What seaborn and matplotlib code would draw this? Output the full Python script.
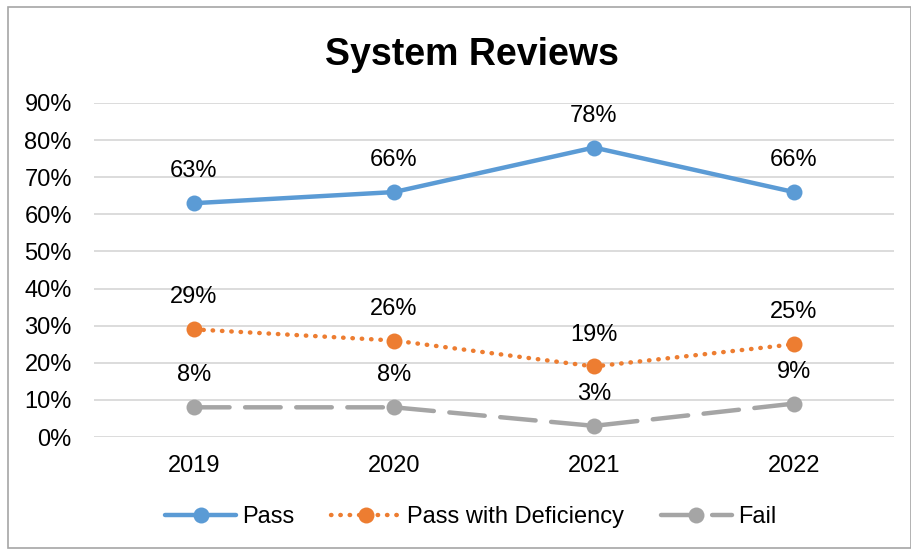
import pandas as pd
import matplotlib.pyplot as plt
import seaborn as sns
from matplotlib.patches import Rectangle
from matplotlib.ticker import PercentFormatter

# Data
years = ["2019", "2020", "2021", "2022"]
pass_vals = [0.63, 0.66, 0.78, 0.66]
deficiency_vals = [0.29, 0.26, 0.19, 0.25]
fail_vals = [0.08, 0.08, 0.03, 0.09]
series_names = ["Pass", "Pass with Deficiency", "Fail"]
colors = ["#5B9BD5", "#ED7D31", "#A5A5A5"]

sns.set_style("white")
plt.rcParams["font.family"] = ["Liberation Sans", "DejaVu Sans"]
plt.rcParams["text.color"] = "#000000"

fig = plt.figure(figsize=(9.12, 5.5), dpi=100)
ax = fig.add_axes([94 / 912, 1 - 437 / 550, 800 / 912, (437 - 103) / 550])

x = list(range(len(years)))
styles = ["-", (0, (0.1, 2.0)), (0, (8, 3.5))]
all_vals = [pass_vals, deficiency_vals, fail_vals]

# one line per series
for name, vals, color, ls in zip(series_names, all_vals, colors, styles):
    df = pd.DataFrame({"x": x, "y": vals})
    sns.lineplot(data=df, x="x", y="y", ax=ax, color=color, linewidth=3.2,
                 linestyle=ls, marker="o", markersize=11.5, markeredgewidth=0,
                 label=name, dash_capstyle="round", solid_capstyle="round")
    for xi, v in zip(x, vals):
        ax.annotate(f"{round(v * 100)}%", (xi, v), xytext=(0, 23),
                    textcoords="offset points", ha="center", va="center",
                    fontsize=17, color="#000000")

ax.set_xlim(-0.5, 3.5)
ax.set_ylim(0, 0.9)
ax.set_yticks([i / 10 for i in range(10)])
ax.yaxis.set_major_formatter(PercentFormatter(1.0, decimals=0))
ax.set_xticks(x)
ax.set_xticklabels(years)
ax.tick_params(axis="both", labelsize=17, length=0, colors="#000000")
ax.tick_params(axis="y", pad=16)
ax.tick_params(axis="x", pad=13)
ax.grid(axis="y", color="#D9D9D9", linewidth=1.3)
ax.set_axisbelow(True)
for s in ax.spines.values():
    s.set_visible(False)
ax.set_xlabel("")
ax.set_ylabel("")
ax.get_legend().remove()

fig.text(0.517, 1 - 55 / 550, "System Reviews", ha="center", va="center",
         fontsize=27, fontweight="bold", color="#000000")

handles, labels = ax.get_legend_handles_labels()
fig.legend(handles, labels, loc="center", bbox_to_anchor=(0.516, 1 - 517 / 550),
           ncol=3, frameon=False, fontsize=17, handlelength=3.0,
           columnspacing=1.55, handletextpad=0.25)

# chart border
fig.patches.append(Rectangle((8 / 912, 2 / 550), 903 / 912, 541 / 550,
                             transform=fig.transFigure, fill=False,
                             edgecolor="#A6A6A6", linewidth=1.2))

plt.savefig("out.png", dpi=100)
plt.close()
